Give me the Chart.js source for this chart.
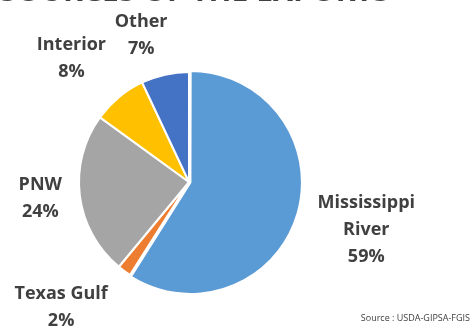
<!DOCTYPE html>
<html>
<head>
<meta charset="utf-8">
<script src="https://cdn.jsdelivr.net/npm/chart.js@4/dist/chart.umd.min.js"></script>
<style>
  html, body { margin: 0; padding: 0; background: #fff; overflow: hidden; }
  #wrap { position: relative; width: 472px; height: 330px; }
  #title {
    position: absolute; left: 0; top: -25px; margin: 0;
    font: bold 30px "Open Sans", sans-serif; line-height: 30px;
    color: #404040; white-space: nowrap;
  }
  #source {
    position: absolute; right: 2px; top: 311px;
    font: 9px "Open Sans", sans-serif; color: #404040; white-space: nowrap;
  }
</style>
</head>
<body>
<div id="wrap">
  <canvas id="pie" width="472" height="330"></canvas>
  <h1 id="title">SOURCES OF THE EXPORTS</h1>
  <div id="source">Source : USDA-GIPSA-FGIS</div>
</div>
<script>
// export share by region, percent
const regions = [["Mississippi", "River"], ["Texas Gulf"], ["PNW"], ["Interior"], ["Other"]];
const shares = [59, 2, 24, 8, 7];
const colors = ["#5b9bd5", "#ed7d31", "#a5a5a5", "#ffc000", "#4472c4"];

// where each label sits: distance as a multiple of the radius, angle nudge in degrees
const labelSpots = [
  { k: 1.67, turn: -1 },
  { k: 1.63, turn: 9.5 },
  { k: 1.36, turn: 1 },
  { k: 1.55, turn: -4 },
  { k: 1.40, turn: -5.5 }
];

const sliceLabels = {
  id: "sliceLabels",
  afterDatasetsDraw(chart) {
    const ctx = chart.ctx;
    const arcs = chart.getDatasetMeta(0).data;
    ctx.save();
    ctx.font = "bold 18px 'Open Sans', sans-serif";
    ctx.fillStyle = "#404040";
    ctx.textAlign = "center";
    ctx.textBaseline = "middle";
    const lineH = 27;
    arcs.forEach((arc, i) => {
      const { x, y, startAngle, endAngle, outerRadius } = arc.getProps(["x", "y", "startAngle", "endAngle", "outerRadius"]);
      const mid = (startAngle + endAngle) / 2 + labelSpots[i].turn * Math.PI / 180;
      const r = outerRadius * labelSpots[i].k;
      const lines = regions[i].concat([shares[i] + "%"]);
      const cx = x + Math.cos(mid) * r;
      const cy = y + Math.sin(mid) * r - (lines.length - 1) * lineH / 2;
      lines.forEach((t, j) => ctx.fillText(t, cx, cy + j * lineH));
    });
    ctx.restore();
  }
};

new Chart(document.getElementById("pie"), {
  type: "pie",
  data: {
    labels: regions.map(r => r.join(" ")),
    datasets: [{
      data: shares,
      backgroundColor: colors,
      borderColor: "#ffffff",
      borderWidth: 2,
      offset: [6, 0, 0, 0, 0],
      hoverOffset: 0,
      radius: 110
    }]
  },
  options: {
    responsive: false,
    animation: false,
    layout: { padding: { left: 20, right: 114, top: 60, bottom: 26 } },
    plugins: {
      legend: { display: false },
      tooltip: { enabled: false }
    }
  },
  plugins: [sliceLabels]
});
</script>
</body>
</html>
